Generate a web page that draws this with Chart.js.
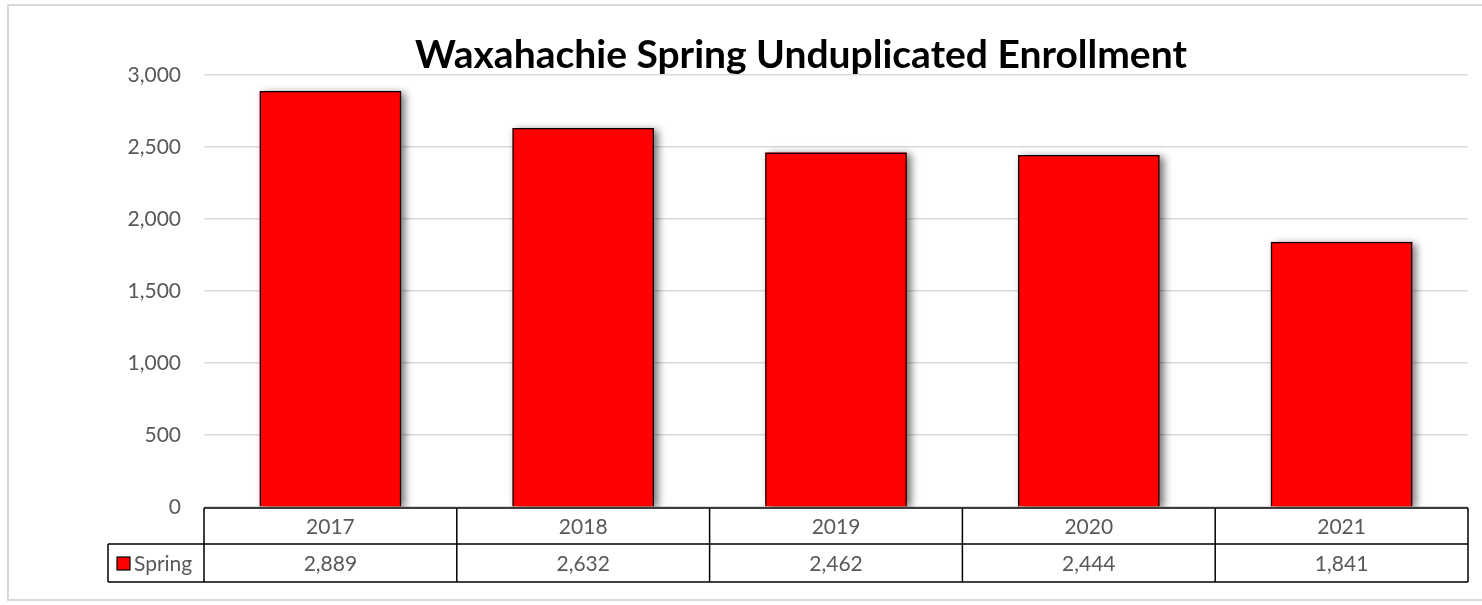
<!DOCTYPE html>
<html>
<head>
<meta charset="utf-8">
<script src="https://cdn.jsdelivr.net/npm/chart.js@4"></script>
<style>
  html, body { margin: 0; padding: 0; background: #fff; }
  #frame { position: absolute; left: 7px; top: 4px; width: 1480px; height: 597px; border: 2px solid #d9d9d9; box-sizing: border-box; }
  #wrap { position: absolute; left: 0; top: 0; width: 1482px; height: 605px; }
</style>
</head>
<body>
<div id="frame"></div>
<div id="wrap"><canvas id="chart"></canvas></div>
<script>
const years = ['2017', '2018', '2019', '2020', '2021'];
const springValues = [2889, 2632, 2462, 2444, 1841];
const seriesName = 'Spring';
const chartTitle = 'Waxahachie Spring Unduplicated Enrollment';

const colors = {
    bar: 'rgb(255, 0, 0)',
    border: '#000000',
    grid: '#d9d9d9',
    text: '#595959'
};
const fontFamily = 'Lato, "Open Sans", sans-serif';
const textSize = 21;

const fmt = v => v.toLocaleString('en-US');

// soft shadow behind each bar (the bar element clips its own drawing, so paint it first)
const shadowPlugin = {
    id: 'barShadow',
    beforeDatasetDraw(chart, args) {
        const ctx = chart.ctx;
        const area = chart.chartArea;
        ctx.save();
        ctx.beginPath();
        ctx.rect(area.left, 0, area.right - area.left + 20, area.bottom);
        ctx.clip();
        ctx.shadowColor = 'rgba(0, 0, 0, 0.55)';
        ctx.shadowBlur = 8;
        ctx.shadowOffsetX = 4;
        ctx.shadowOffsetY = 2;
        ctx.fillStyle = colors.bar;
        args.meta.data.forEach(bar => {
            const { x, y, base, width } = bar.getProps(['x', 'y', 'base', 'width'], true);
            ctx.fillRect(x - width / 2, y, width, base - y);
        });
        ctx.restore();
    }
};

// data table under the plot + title
const tablePlugin = {
    id: 'dataTable',
    afterDraw(chart) {
        const ctx = chart.ctx;
        const xs = chart.scales.x;
        const area = chart.chartArea;
        const rowH1 = 36, rowH2 = 38;
        const top = area.bottom + 1;
        const mid = top + rowH1;
        const bot = mid + rowH2;
        const legendLeft = 108;
        const colW = (area.right - area.left) / years.length;

        ctx.save();
        ctx.fillStyle = '#fff';
        ctx.fillRect(area.left, top, area.right - area.left + 12, bot - top + 4);
        ctx.strokeStyle = colors.border;
        ctx.lineWidth = 1.5;
        ctx.beginPath();
        ctx.moveTo(area.left, top); ctx.lineTo(area.right, top);
        ctx.moveTo(legendLeft, mid); ctx.lineTo(area.right, mid);
        ctx.moveTo(legendLeft, bot); ctx.lineTo(area.right, bot);
        ctx.moveTo(legendLeft, mid); ctx.lineTo(legendLeft, bot);
        for (let i = 0; i <= years.length; i++) {
            const x = area.left + i * colW;
            ctx.moveTo(x, top); ctx.lineTo(x, bot);
        }
        ctx.stroke();

        ctx.fillStyle = colors.text;
        ctx.font = textSize + 'px ' + fontFamily;
        ctx.textAlign = 'center';
        ctx.textBaseline = 'middle';
        years.forEach((y, i) => {
            const x = xs.getPixelForValue(i);
            ctx.fillText(y, x, top + rowH1 / 2 + 1);
            ctx.fillText(fmt(springValues[i]), x, mid + rowH2 / 2 + 1);
        });

        // legend key
        ctx.fillStyle = colors.bar;
        ctx.fillRect(117, 557, 13, 13);
        ctx.strokeStyle = colors.border;
        ctx.lineWidth = 1.2;
        ctx.strokeRect(117, 557, 13, 13);
        ctx.fillStyle = colors.text;
        ctx.textAlign = 'left';
        ctx.fillText(seriesName, 134, mid + rowH2 / 2 + 1);

        // title
        ctx.fillStyle = '#000';
        ctx.font = 'bold 39px ' + fontFamily;
        ctx.textAlign = 'center';
        ctx.textBaseline = 'alphabetic';
        ctx.fillText(chartTitle, 801, 68);
        ctx.restore();
    }
};

new Chart(document.getElementById('chart'), {
    type: 'bar',
    data: {
        labels: years,
        datasets: [{
            label: seriesName,
            data: springValues,
            backgroundColor: colors.bar,
            borderColor: colors.border,
            borderWidth: 1.5,
            categoryPercentage: 1,
            barPercentage: 0.56
        }]
    },
    options: {
        responsive: true,
        maintainAspectRatio: false,
        animation: false,
        layout: { padding: { left: 0, right: 14, top: 75, bottom: 98 } },
        plugins: {
            legend: { display: false },
            tooltip: { enabled: false }
        },
        scales: {
            x: { display: false },
            y: {
                min: 0,
                max: 3000,
                afterFit: s => { s.width = 204; },
                border: { display: false },
                grid: { color: colors.grid, lineWidth: 1.5, drawTicks: false },
                ticks: {
                    stepSize: 500,
                    padding: 23,
                    color: colors.text,
                    font: { family: fontFamily, size: textSize },
                    callback: v => fmt(v)
                }
            }
        }
    },
    plugins: [shadowPlugin, tablePlugin]
});
</script>
</body>
</html>
